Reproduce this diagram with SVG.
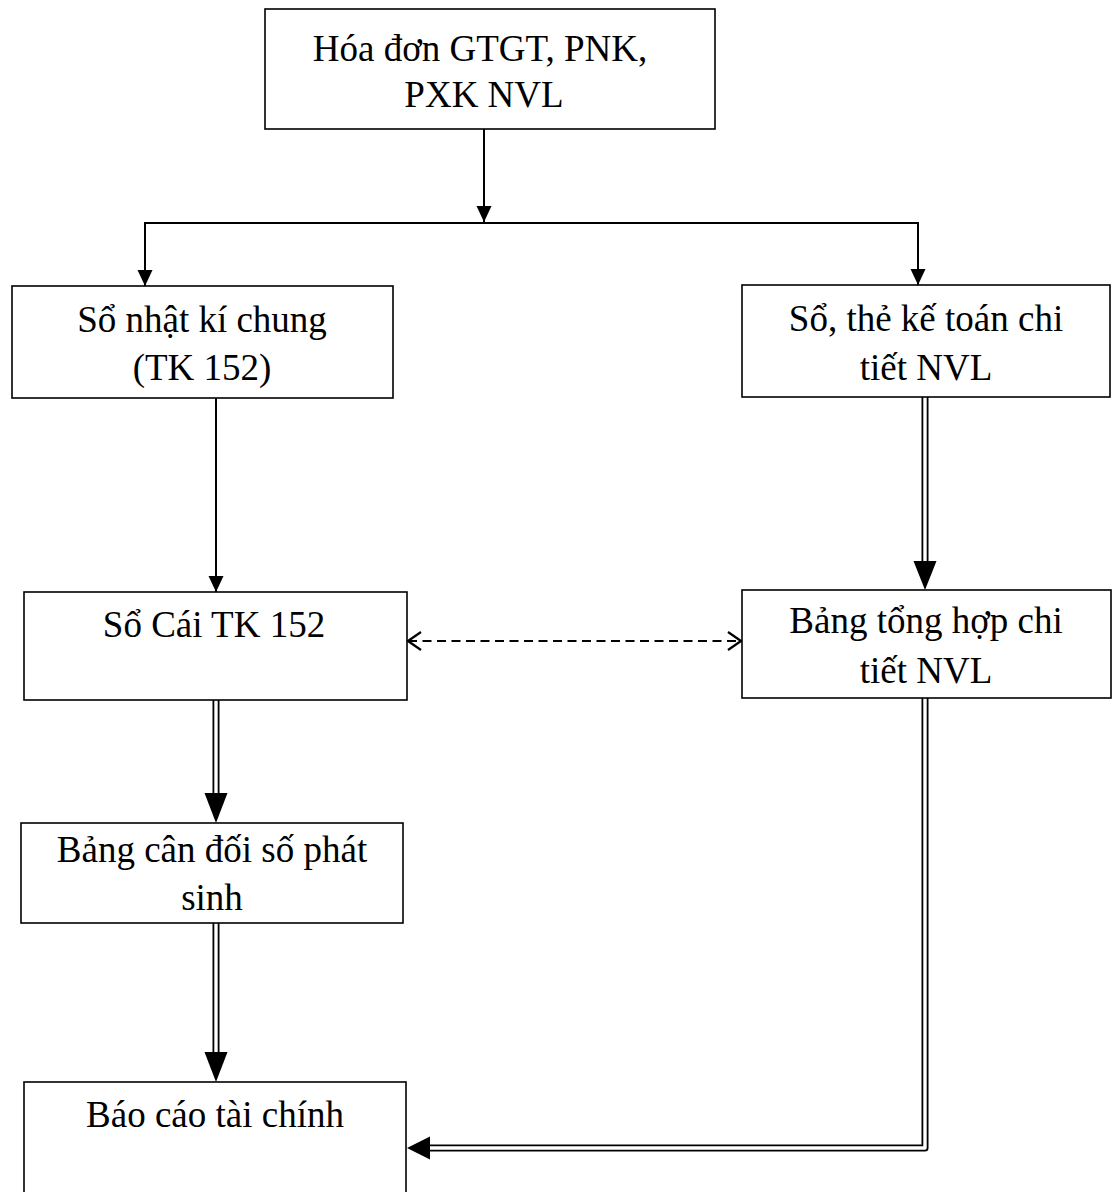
<svg xmlns="http://www.w3.org/2000/svg" width="1113" height="1192" viewBox="0 0 1113 1192">
  <style>
    .box { fill: #fff; stroke: #000; stroke-width: 1.6; }
    .lbl { font-family: "Liberation Serif", "Times New Roman", serif; font-size: 37px; fill: #000; text-anchor: middle; }
    .ln { fill: none; stroke: #000; stroke-width: 2; }
    .dash { fill: none; stroke: #000; stroke-width: 2; stroke-dasharray: 9 5.5; }
    .dbl-o { fill: none; stroke: #000; stroke-width: 7; stroke-linejoin: round; }
    .dbl-i { fill: none; stroke: #fff; stroke-width: 3.4; stroke-linejoin: round; }
    .head { fill: #000; }
  </style>
  <defs>
    <marker id="tri" markerUnits="userSpaceOnUse" markerWidth="16" markerHeight="17" viewBox="0 0 16 17" refX="16" refY="8.5" orient="auto">
      <path d="M0,1 L16,8.5 L0,16 Z" fill="#000"/>
    </marker>
    <marker id="chev" markerUnits="userSpaceOnUse" markerWidth="15" markerHeight="22" viewBox="0 0 15 22" refX="14" refY="11" orient="auto-start-reverse">
      <path d="M1,2 L14,11 L1,20" fill="none" stroke="#000" stroke-width="2.2"/>
    </marker>
  </defs>

  <!-- connectors -->
  <g id="connectors">
    <line class="ln" x1="484" y1="129" x2="484" y2="222" marker-end="url(#tri)"/>
    <line class="ln" x1="145" y1="223" x2="919" y2="223"/>
    <line class="ln" x1="145" y1="222" x2="145" y2="286" marker-end="url(#tri)"/>
    <line class="ln" x1="918" y1="222" x2="918" y2="285" marker-end="url(#tri)"/>
    <line class="ln" x1="216" y1="398" x2="216" y2="592" marker-end="url(#tri)"/>

    <!-- dashed two-way link between the ledger and the summary table -->
    <line class="dash" x1="408" y1="641" x2="741" y2="641" marker-start="url(#chev)" marker-end="url(#chev)"/>

    <!-- double lines -->
    <path class="dbl-o" d="M216,700 V795"/>
    <path class="dbl-i" d="M216,700 V795"/>
    <polygon class="head" points="204.5,793 227.5,793 216,823"/>

    <path class="dbl-o" d="M925,397 V565"/>
    <path class="dbl-i" d="M925,397 V565"/>
    <polygon class="head" points="913.5,561 936.5,561 925,590"/>

    <path class="dbl-o" d="M216,923 V1054"/>
    <path class="dbl-i" d="M216,923 V1054"/>
    <polygon class="head" points="204.5,1052 227.5,1052 216,1082"/>

    <path class="dbl-o" d="M925,698 V1148 H428"/>
    <path class="dbl-i" d="M925,698 V1148 H428"/>
    <polygon class="head" points="430,1136.5 430,1159.5 407,1148"/>
  </g>

  <g id="node-hoadon">
    <rect class="box" x="265" y="9" width="450" height="120"/>
    <text class="lbl" x="480" y="61">Hóa đơn GTGT, PNK,</text>
    <text class="lbl" x="484" y="107">PXK NVL</text>
  </g>

  <g id="node-nkc">
    <rect class="box" x="12" y="286" width="381" height="112"/>
    <text class="lbl" x="202" y="332">Sổ nhật kí chung</text>
    <text class="lbl" x="202" y="380">(TK 152)</text>
  </g>

  <g id="node-sothe">
    <rect class="box" x="742" y="285" width="368" height="112"/>
    <text class="lbl" x="926" y="331">Sổ, thẻ kế toán chi</text>
    <text class="lbl" x="926" y="380">tiết NVL</text>
  </g>

  <g id="node-socai">
    <rect class="box" x="24" y="592" width="383" height="108"/>
    <text class="lbl" x="214" y="637">Sổ Cái TK 152</text>
  </g>

  <g id="node-bangth">
    <rect class="box" x="742" y="590" width="369" height="108"/>
    <text class="lbl" x="926" y="633">Bảng tổng hợp chi</text>
    <text class="lbl" x="926" y="683">tiết NVL</text>
  </g>

  <g id="node-cdps">
    <rect class="box" x="21" y="823" width="382" height="100"/>
    <text class="lbl" x="212" y="862">Bảng cân đối số phát</text>
    <text class="lbl" x="212" y="910">sinh</text>
  </g>

  <g id="node-bctc">
    <rect class="box" x="24" y="1082" width="382" height="120"/>
    <text class="lbl" x="215" y="1127">Báo cáo tài chính</text>
  </g>
</svg>
